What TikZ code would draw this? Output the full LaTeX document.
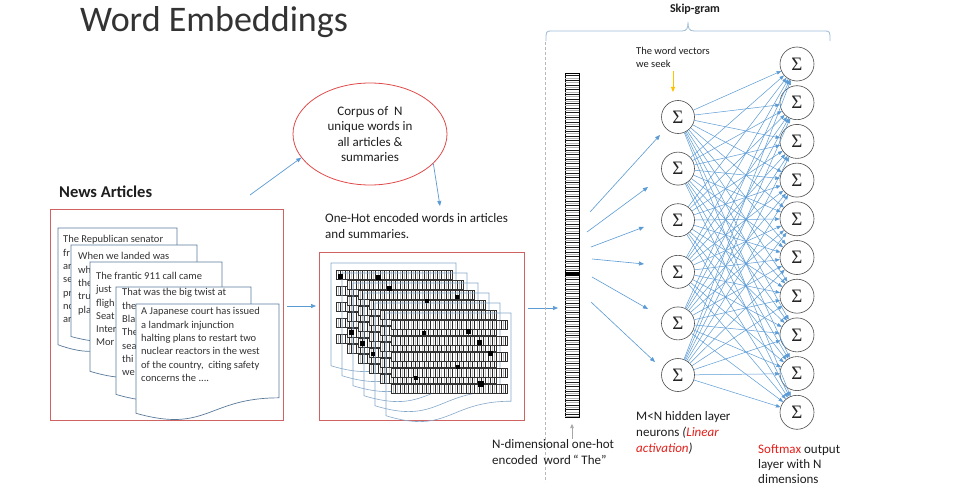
\documentclass[tikz,border=0pt]{standalone}
\usepackage{fontspec}
\setmainfont{Carlito}
\newfontfamily\sigfont{Liberation Serif}
\usetikzlibrary{arrows.meta,shapes.geometric}
\definecolor{ablue}{HTML}{5B9BD5}
\definecolor{rbox}{HTML}{D06262}
\definecolor{rell}{HTML}{E04A4A}
\definecolor{docc}{HTML}{5A7A9A}
\definecolor{layc}{HTML}{86A9C9}
\definecolor{brc}{HTML}{9DBCD8}
\definecolor{goldc}{HTML}{FFC000}
\definecolor{wred}{HTML}{E3201B}
\definecolor{txt}{HTML}{1E1E1E}
\definecolor{dtxt}{HTML}{333333}
\newcommand\fs[2]{\fontsize{#1}{#2}\selectfont}
\newcommand\drawdoc[5]{\draw[#5] (#1,#2) -- ({#1+#3},#2) -- ({#1+#3},{#2+0.802*#4}) .. controls ({#1+0.5*#3},{#2+0.802*#4}) and ({#1+0.5*#3},{#2+1.107*#4}) .. (#1,{#2+0.934*#4}) -- cycle;}
\tikzset{
  arr/.style={draw=ablue, line width=0.7pt, -{Triangle[length=5pt,width=4pt]}},
  nn/.style={draw=ablue, line width=0.5pt, -{Triangle[length=4.5pt,width=3.5pt]}},
  neuron/.style={circle, draw=black!70, line width=0.6pt, fill=white, inner sep=0pt, minimum size=33pt, font=\sigfont\fs{19}{19}, text=black!85},
  redbox/.style={draw=rbox, line width=0.8pt, inner sep=0pt},
  docshape/.style={draw=docc, line width=0.7pt, fill=white},
  layerdoc/.style={draw=layc, line width=0.6pt},
  doctext/.style={anchor=north west, inner sep=0pt, align=left, font=\fs{10.5}{13.3}, text=dtxt},
  lbl/.style={anchor=north west, inner sep=0pt, align=left, font=\fs{13}{15.7}, text=txt},
}
\begin{document}
\begin{tikzpicture}[x=1pt,y=-1pt]
\useasboundingbox (0,0) rectangle (959,503);
\fill[white] (0,0) rectangle (959,503);

% title
\node[anchor=base west, inner sep=0pt, font=\fs{36}{40}, text=black!80] (title) at (80,32) {Word Embeddings};
\node[anchor=base west, inner sep=0pt, font=\bfseries\fs{16.5}{18}, text=txt] (news) at (59,197) {News Articles};

% corpus ellipse
\node[ellipse, draw=rell, line width=0.8pt, minimum width=154pt, minimum height=102pt, inner sep=0pt, align=center, font=\fs{13}{15.6}, text=txt] (corp) at (370,134) {Corpus of \ N\\unique words in\\all articles \&\\summaries};

% box 1 with documents
\node[redbox, minimum width=233pt, minimum height=211pt] (box1) at (166.5,314.5) {};
\drawdoc{58}{228}{119}{125}{docshape}
\node[doctext] (d1) at (63,235.5) {The Republican senator\\fr\\ar\\se\\pr\\nc\\ar};
\drawdoc{71}{245}{126}{98}{docshape}
\node[doctext] (d2) at (78,252.5) {When we landed was\\wh\\the\\tru\\pla};
\drawdoc{90}{262}{132}{117}{docshape}
\node[doctext] (d3) at (96,272) {The frantic 911 call came\\just\\fligh\\Seat\\Inter\\Mor};
\drawdoc{116}{287}{135}{115}{docshape}
\node[doctext] (d4) at (122,288.5) {That was the big twist at\\the\\Bla\\The\\sea\\thi\\we};
\drawdoc{136}{304}{143}{117}{docshape}
\node[doctext] (d5) at (141,307.5) {A Japanese court has issued\\a landmark injunction\\halting plans to restart two\\nuclear reactors in the west\\of the country,\ \ citing safety\\concerns the ....};

% box 2 with one-hot layers
\node[lbl] (oh) at (325,213.5) {One-Hot encoded words in articles\\and summaries.};
\node[redbox, minimum width=205pt, minimum height=168pt] (box2) at (421.5,336) {};
\foreach \k in {0,...,5}{
  \pgfmathsetmacro\lx{331+11*\k}
  \pgfmathsetmacro\ty{263+10*\k}
  \drawdoc{\lx}{\ty}{125}{110}{layerdoc}
  \foreach \j in {0,...,4}{
    \pgfmathsetmacro\ry{\ty+7+16*\j}
    \fill[white] (\lx+5,\ry) rectangle (\lx+121,\ry+9);
    \foreach \i in {0,...,25}{
      \draw[gray!55, line width=0.4pt] (\lx+7.2+4.4*\i,\ry) -- (\lx+7.2+4.4*\i,\ry+9);
      \draw[black!85, line width=0.4pt] (\lx+9.4+4.4*\i,\ry) -- (\lx+9.4+4.4*\i,\ry+9);
    }
    \draw[black!80, line width=0.45pt] (\lx+5,\ry) rectangle (\lx+121,\ry+9);
  }
}
\foreach \px/\py/\s in {340/276/5,378/277/5,389/288/5,427/301/3.5,457/297/3.5,351/332/5,362/343/5,373/354/4,424/333/4,468/331/5,479/342/5,490/353/5,458/367/4,416/378/3.5,481/384/6}
  \fill[black] (\px-\s/2,\py-\s/2) rectangle (\px+\s/2,\py+\s/2);

% arrows left part
\coordinate (a1s) at (287,306); \coordinate (a1e) at (316,306);
\draw[arr] (a1s) -- (a1e);
\coordinate (a3s) at (250,195);
\draw[arr] (a3s) -- (corp.199);
\coordinate (a4e) at (440,206);
\draw[arr] (corp.-25) -- (a4e);
\coordinate (a2s) at (528,308); \coordinate (a2e) at (558,308);
\draw[arr] (a2s) -- (a2e);

% skip-gram brace
\node[inner sep=0pt, font=\bfseries\fs{12}{14}, text=txt] (sg) at (695,9) {Skip-gram};
\draw[brc, line width=0.8pt] (546,41) .. controls (546,31) .. (552,31) -- (682,31) .. controls (687,31) and (688,28) .. (688,22) .. controls (688,28) and (689,31) .. (694,31) -- (824,31) .. controls (830,31) .. (830,41);
\draw[gray!55, line width=0.6pt, dash pattern=on 3pt off 2pt] (545,42) -- (545,482);

% column vector
\node[draw=black, line width=0.6pt, minimum width=14pt, minimum height=344pt, inner sep=0pt] (col) at (572,245) {};
\foreach \i in {0,...,73}{
  \draw[black!90, line width=0.35pt] (565,{75.5+4.64*\i}) -- (579,{75.5+4.64*\i});
  \draw[gray!60, line width=0.35pt] (565,{77.8+4.64*\i}) -- (579,{77.8+4.64*\i});
}
\fill[black] (565,271.5) rectangle (580,276);
\node[lbl] (nd) at (492,439.5) {N-dimensional one-hot\\encoded\ \ word\,“ The”};
\coordinate (ga) at (572,439); \coordinate (gb) at (572,424);
\draw[draw=gray!70, line width=0.6pt, -{Triangle[length=4pt,width=3.5pt]}] (ga) -- (gb);

% neurons
\foreach \i in {1,...,6} \node[neuron] (h\i) at (678,{117+51.6*(\i-1)}) {Σ};
\foreach \i in {1,...,10} \node[neuron, minimum size=34pt] (o\i) at (797,{64+38.7*(\i-1)}) {Σ};
\foreach \i in {1,...,6}{
  \foreach \j in {1,...,10}{
    \draw[nn] (h\i) -- (o\j);
  }
}

% input to hidden arrows
\foreach \n/\sx/\sy/\ex/\ey in {1/590/212/660/135, 2/587/232/648/187, 3/591/247/644/227, 4/592/259/644/264, 5/592/277/648/309, 6/591/302/655/362}{
  \coordinate (s\n) at (\sx,\sy);
  \coordinate (e\n) at (\ex,\ey);
  \draw[arr, line width=0.6pt] (s\n) -- (e\n);
}

% word vectors
\node[anchor=north west, inner sep=0pt, align=left, font=\fs{10.5}{13}, text=txt] (wv) at (636,47.5) {The word vectors\\we seek};
\coordinate (ya) at (673,71); \coordinate (yb) at (673,92);
\draw[draw=goldc, line width=0.9pt, -{Triangle[length=5pt,width=4pt]}] (ya) -- (yb);

% labels
\node[lbl] (hl) at (636,411.5) {M<N hidden layer\\neurons \textit{(\textcolor{wred}{Linear}}\\\textit{\textcolor{wred}{activation})}};
\node[lbl, font=\fs{13}{15}] (sm) at (758,444.5) {\textcolor{wred}{Softmax} output\\layer with N\\dimensions};
\end{tikzpicture}
\end{document}
